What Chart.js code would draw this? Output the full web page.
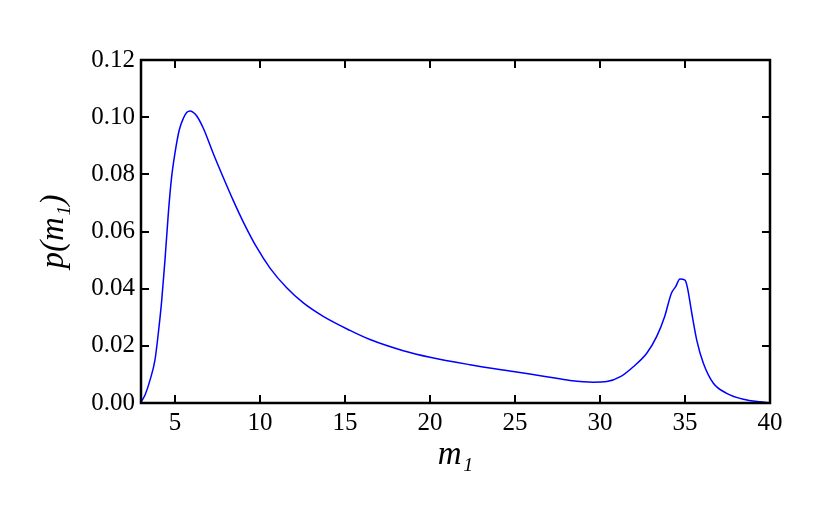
<!DOCTYPE html>
<html>
<head>
<meta charset="utf-8">
<script src="https://cdn.jsdelivr.net/npm/chart.js@4.4.1/dist/chart.umd.min.js"></script>
<style>
  html, body { margin: 0; padding: 0; background: #fff; }
  #wrap { width: 830px; height: 519px; }
</style>
</head>
<body>
<div id="wrap"><canvas id="c" width="830" height="519"></canvas></div>
<script>
const massValues = [3.0, 3.25, 3.53, 3.82, 4.02, 4.22, 4.41, 4.61, 4.8, 5.0, 5.25, 5.49, 5.7, 5.88, 6.05, 6.27, 6.66, 7.25, 7.84, 8.43, 9.02, 9.8, 10.59, 11.57, 12.55, 13.72, 15.29, 16.47, 18.43, 20.0, 22.35, 24.9, 26.86, 28.24, 29.6, 30.4, 31.2, 31.96, 32.75, 33.33, 33.8, 34.2, 34.45, 34.7, 35.0, 35.13, 35.4, 35.69, 36.08, 36.67, 37.45, 38.43, 39.4, 40.0];
const probValues = [0.0003, 0.003, 0.008, 0.015, 0.0245, 0.036, 0.050, 0.0665, 0.079, 0.0875, 0.0955, 0.0996, 0.1017, 0.1022, 0.1018, 0.1005, 0.0962, 0.0873, 0.0789, 0.0708, 0.0633, 0.0545, 0.0472, 0.0403, 0.0350, 0.0303, 0.0254, 0.0222, 0.0183, 0.016, 0.0134, 0.011, 0.0092, 0.0079, 0.0073, 0.0075, 0.0092, 0.0127, 0.0174, 0.0232, 0.0302, 0.0384, 0.0407, 0.0434, 0.043, 0.0407, 0.0314, 0.022, 0.0139, 0.0069, 0.0034, 0.0013, 0.0004, 0.0001];
const xTicks = [5, 10, 15, 20, 25, 30, 35, 40];
const yTicks = [0.00, 0.02, 0.04, 0.06, 0.08, 0.10, 0.12];
const xLabel = 'm₁';
const yLabel = 'p(m₁)';

const FONT = "'Liberation Serif', 'DejaVu Serif', serif";

const points = massValues.map((m, i) => ({ x: m, y: probValues[i] }));

const frameTicks = {
  id: 'frameTicks',
  afterDraw(chart) {
    const { ctx, chartArea: a, scales: { x, y } } = chart;
    ctx.save();
    ctx.strokeStyle = '#000';
    ctx.lineWidth = 2;
    const L = 8;
    ctx.beginPath();
    xTicks.forEach(v => {
      const px = Math.round(x.getPixelForValue(v));
      if (px > a.left + 1 && px < a.right - 1) {
        ctx.moveTo(px, a.bottom); ctx.lineTo(px, a.bottom - L);
        ctx.moveTo(px, a.top); ctx.lineTo(px, a.top + L);
      }
    });
    yTicks.forEach(v => {
      const py = Math.round(y.getPixelForValue(v));
      if (py > a.top + 1 && py < a.bottom - 1) {
        ctx.moveTo(a.left, py); ctx.lineTo(a.left + L, py);
        ctx.moveTo(a.right, py); ctx.lineTo(a.right - L, py);
      }
    });
    ctx.stroke();
    ctx.lineWidth = 2.5;
    ctx.strokeRect(a.left, a.top, a.right - a.left, a.bottom - a.top);
    ctx.restore();
  }
};

new Chart(document.getElementById('c'), {
  type: 'line',
  data: {
    datasets: [{
      data: points,
      borderColor: '#0000ff',
      borderWidth: 1.5,
      pointRadius: 0,
      fill: false,
      cubicInterpolationMode: 'monotone'
    }]
  },
  options: {
    responsive: false,
    animation: false,
    events: [],
    layout: { padding: { top: 60, right: 60, left: 0, bottom: 0 } },
    plugins: { legend: { display: false }, tooltip: { enabled: false } },
    scales: {
      x: {
        type: 'linear',
        min: 3, max: 40,
        afterBuildTicks: s => { s.ticks = xTicks.map(v => ({ value: v })); },
        afterFit: s => { s.height = 116; },
        grid: { display: false, drawTicks: false },
        border: { display: false },
        ticks: {
          autoSkip: false, maxRotation: 0, padding: 5,
          color: '#000', font: { family: FONT, size: 25 },
          callback: v => String(v)
        },
        title: {
          display: true, text: xLabel, color: '#000',
          font: { family: FONT, size: 33, style: 'italic' },
          padding: { top: 0, bottom: 44 }
        }
      },
      y: {
        type: 'linear',
        min: 0, max: 0.12,
        afterBuildTicks: s => { s.ticks = yTicks.map(v => ({ value: v })); },
        afterFit: s => { s.width = 141; },
        grid: { display: false, drawTicks: false },
        border: { display: false },
        ticks: {
          autoSkip: false, padding: 6,
          color: '#000', font: { family: FONT, size: 25 },
          callback: v => Number(v).toFixed(2)
        },
        title: {
          display: true, text: yLabel, color: '#000',
          font: { family: FONT, size: 33, style: 'italic' },
          padding: { top: 35, bottom: 0 }
        }
      }
    }
  },
  plugins: [frameTicks]
});
</script>
</body>
</html>
